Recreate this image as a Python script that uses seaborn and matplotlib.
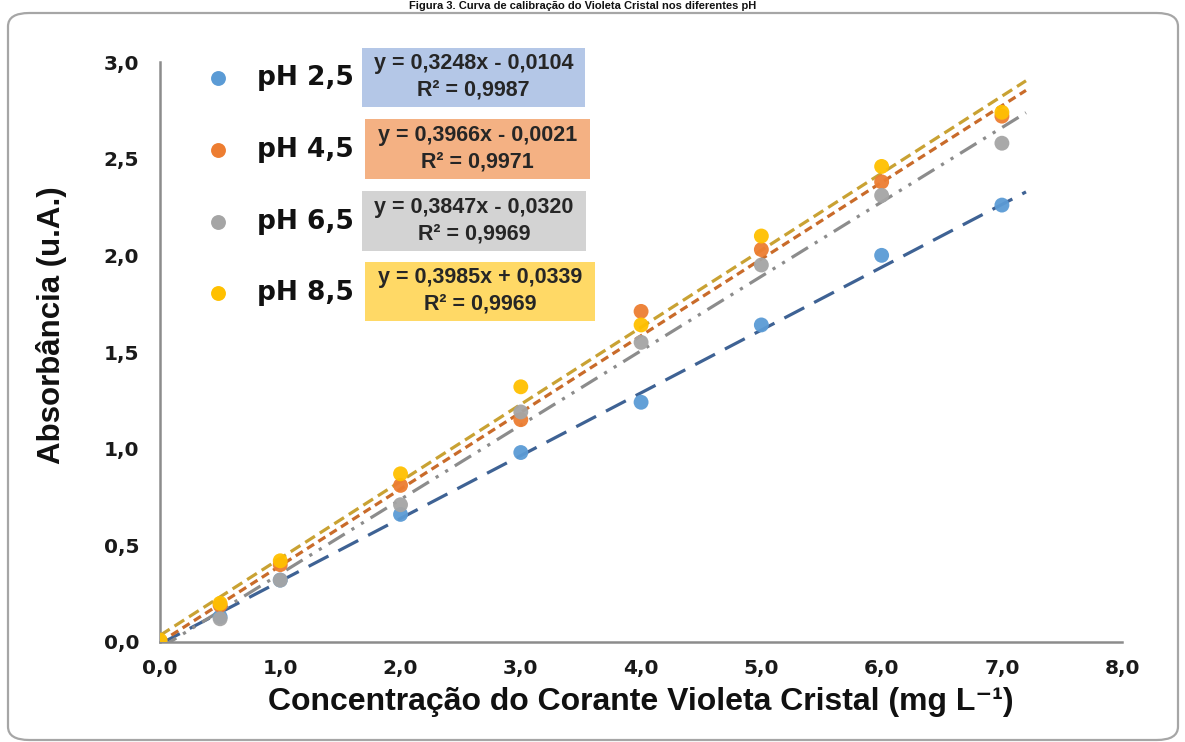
import numpy as np
import pandas as pd
import seaborn as sns
import matplotlib
matplotlib.use("Agg")
import matplotlib.pyplot as plt
from matplotlib.patches import FancyBboxPatch, Rectangle
from matplotlib.ticker import FuncFormatter

# Concentration of crystal violet (mg/L) and absorbance at each pH
concentracao = [0.0, 0.5, 1.0, 2.0, 3.0, 4.0, 5.0, 6.0, 7.0]
abs_ph25 = [0.00, 0.13, 0.32, 0.66, 0.98, 1.24, 1.64, 2.00, 2.26]
abs_ph45 = [0.00, 0.19, 0.40, 0.81, 1.15, 1.71, 2.03, 2.38, 2.72]
abs_ph65 = [0.00, 0.12, 0.32, 0.71, 1.19, 1.55, 1.95, 2.31, 2.58]
abs_ph85 = [0.01, 0.20, 0.42, 0.87, 1.32, 1.64, 2.10, 2.46, 2.74]

series_labels = ["pH 2,5", "pH 4,5", "pH 6,5", "pH 8,5"]
slopes = [0.3248, 0.3966, 0.3847, 0.3985]
intercepts = [-0.0104, -0.0021, -0.0320, 0.0339]
r2_values = [0.9987, 0.9971, 0.9969, 0.9969]
trend_x_end = 7.2

x_ticks = [0, 1, 2, 3, 4, 5, 6, 7, 8]
y_ticks = [0.0, 0.5, 1.0, 1.5, 2.0, 2.5, 3.0]

marker_colors = ["#5B9BD5", "#ED7D31", "#A5A5A5", "#FFC000"]
line_colors = ["#3E6294", "#C96B2A", "#8C8C8C", "#C9A233"]
line_styles = [(0, (7, 3.5)), (0, (2.6, 1.6)), (0, (6, 2.5, 1, 2.5, 1, 2.5)), (0, (3.6, 1.8))]
box_colors = ["#B4C7E7", "#F4B183", "#D3D3D3", "#FFD966"]

df = pd.DataFrame({
    "conc": concentracao * 4,
    "abs": abs_ph25 + abs_ph45 + abs_ph65 + abs_ph85,
    "serie": sum([[lab] * len(concentracao) for lab in series_labels], []),
})

sns.set_theme(style="white")
plt.rcParams["font.family"] = ["Liberation Sans", "DejaVu Sans"]
wide = ["DejaVu Sans"]

fig = plt.figure(figsize=(11.85, 7.42), dpi=100)
ax = fig.add_axes([0.135, 0.1348, 0.812, 0.7816])

# chart-area frame with rounded corners
frame = FancyBboxPatch((8 / 1185, 2 / 742), 1170 / 1185, 727 / 742,
                       boxstyle="round,pad=0,rounding_size=0.018",
                       transform=fig.transFigure, facecolor="white",
                       edgecolor="#A6A6A6", linewidth=1.6, zorder=-10)
fig.patches.append(frame)
ax.set_facecolor("none")

# regression trend lines from the fitted equations
xfit = np.linspace(0, trend_x_end, 50)
for m, b, c, ls in zip(slopes, intercepts, line_colors, line_styles):
    ax.plot(xfit, m * xfit + b, color=c, linestyle=ls, linewidth=2.3, zorder=2)

sns.scatterplot(data=df, x="conc", y="abs", hue="serie", hue_order=series_labels,
                palette=marker_colors, s=115, linewidth=0, legend=False, ax=ax,
                zorder=3, alpha=0.95)

ax.set_xlim(0, 8)
ax.set_ylim(0, 3)
ax.set_xticks(x_ticks)
ax.set_yticks(y_ticks)
fmt = FuncFormatter(lambda v, p: f"{v:.1f}".replace(".", ","))
ax.xaxis.set_major_formatter(fmt)
ax.yaxis.set_major_formatter(fmt)

for side in ["top", "right"]:
    ax.spines[side].set_visible(False)
for side in ["left", "bottom"]:
    ax.spines[side].set_color("#8C8C8C")
    ax.spines[side].set_linewidth(1.8)

ax.tick_params(axis="y", direction="out", length=5, width=1.4, color="#8C8C8C", pad=10)
ax.tick_params(axis="x", direction="inout", length=12, width=1.4, color="#8C8C8C", pad=6)
for lab in ax.get_xticklabels() + ax.get_yticklabels():
    lab.set_fontweight("bold")
    lab.set_fontsize(14.5)
    lab.set_family(wide)
    lab.set_color("#1A1A1A")

ax.set_xlabel("Concentração do Corante Violeta Cristal (mg L⁻¹)",
              fontsize=23, fontweight="bold", color="#111111", labelpad=7)
ax.set_ylabel("Absorbância (u.A.)", fontsize=22.5, fontweight="bold", color="#111111")
ax.yaxis.set_label_coords(-0.097, 0.547)

# legend entries with their regression equations
legend_rows = [0.972, 0.848, 0.724, 0.602]
box_x = [0.210, 0.213, 0.210, 0.213]
box_w = [0.232, 0.234, 0.233, 0.239]
box_h = 0.102
for i, lab in enumerate(series_labels):
    yr = legend_rows[i]
    ax.scatter([0.060], [yr], s=115, color=marker_colors[i], transform=ax.transAxes,
               clip_on=False, zorder=5, linewidth=0)
    ax.text(0.1005, yr, lab, transform=ax.transAxes, fontsize=19, fontweight="bold",
            family=wide, va="center", ha="left", color="#111111", clip_on=False)
    ax.add_patch(Rectangle((box_x[i], yr - box_h / 2 + 0.002), box_w[i], box_h,
                           transform=ax.transAxes, facecolor=box_colors[i],
                           edgecolor="none", clip_on=False, zorder=4))
    sign = "-" if intercepts[i] < 0 else "+"
    eq = f"y = {slopes[i]:.4f}x {sign} {abs(intercepts[i]):.4f}".replace(".", ",")
    r2 = f"R² = {r2_values[i]:.4f}".replace(".", ",")
    ax.text(box_x[i] + box_w[i] / 2, yr + 0.026, eq, transform=ax.transAxes,
            fontsize=15.5, fontweight="bold", ha="center", va="center",
            color="#262626", zorder=6, clip_on=False)
    ax.text(box_x[i] + box_w[i] / 2, yr - 0.020, r2, transform=ax.transAxes,
            fontsize=15.5, fontweight="bold", ha="center", va="center",
            color="#262626", zorder=6, clip_on=False)

fig.text(0.492, 1 - 1 / 742, "Figura 3. Curva de calibração do Violeta Cristal nos diferentes pH",
         ha="center", va="top", fontsize=8, fontweight="bold", color="#111111")

fig.savefig("out.png", dpi=100)
